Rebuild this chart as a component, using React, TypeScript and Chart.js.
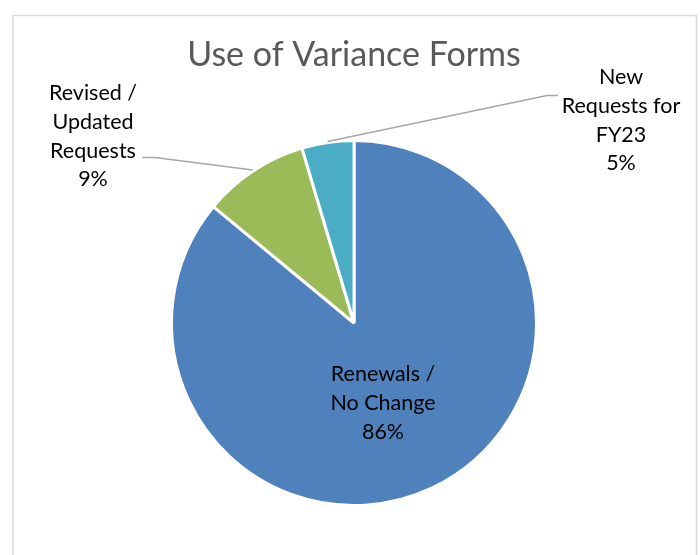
import React, { useEffect, useRef } from "react";
import { Chart, registerables } from "chart.js";

Chart.register(...registerables);

const title = "Use of Variance Forms";
const categories = ["Renewals / No Change", "Revised / Updated Requests", "New Requests for FY23"];
const values = [86, 9.4, 4.6];
const percentLabels = ["86%", "9%", "5%"];
const labelLines = [
  ["Renewals /", "No Change"],
  ["Revised /", "Updated", "Requests"],
  ["New", "Requests for", "FY23"],
];
const colors = ["#4F81BD", "#9BBB59", "#4BACC6"];

const FONT = "Lato, 'Open Sans', sans-serif";

const overlayPlugin = {
  id: "overlay",
  beforeDraw(chart: any) {
    const ctx = chart.ctx;
    ctx.save();
    ctx.fillStyle = "#ffffff";
    ctx.fillRect(0, 0, chart.width, chart.height);
    ctx.strokeStyle = "#d9d9d9";
    ctx.lineWidth = 1.5;
    ctx.strokeRect(13, 15.5, 683.5, 700);
    ctx.restore();
  },
  afterDraw(chart: any) {
    const ctx = chart.ctx;
    const meta = chart.getDatasetMeta(0);
    ctx.save();
    // title
    ctx.fillStyle = "#595959";
    ctx.font = `34px ${FONT}`;
    ctx.textAlign = "center";
    ctx.textBaseline = "alphabetic";
    ctx.fillText(title, 354, 66);

    ctx.font = `21.5px ${FONT}`;
    ctx.fillStyle = "#000000";
    const lh = 28.8;

    // inside label for slice 0
    {
      const lines = [...labelLines[0], percentLabels[0]];
      lines.forEach((t, i) => ctx.fillText(t, 383, 381 + i * lh));
    }
    // outside label slice 1 (left)
    {
      const lines = [...labelLines[1], percentLabels[1]];
      lines.forEach((t, i) => ctx.fillText(t, 93, 100 + i * lh));
    }
    // outside label slice 2 (right)
    {
      const lines = [...labelLines[2], percentLabels[2]];
      lines.forEach((t, i) => ctx.fillText(t, 621, 84 + i * lh));
    }

    // leader lines
    const anchor = (idx: number) => {
      const a: any = meta.data[idx];
      const p = a.getProps(["x", "y", "startAngle", "endAngle", "outerRadius"], true);
      const mid = (p.startAngle + p.endAngle) / 2;
      return { x: p.x + Math.cos(mid) * (p.outerRadius + 1), y: p.y + Math.sin(mid) * (p.outerRadius + 1) };
    };
    ctx.strokeStyle = "#a6a6a6";
    ctx.lineWidth = 1.5;
    const a1 = anchor(1);
    ctx.beginPath();
    ctx.moveTo(142, 157.5);
    ctx.lineTo(155, 157.5);
    ctx.lineTo(a1.x, a1.y);
    ctx.stroke();
    const a2 = anchor(2);
    ctx.beginPath();
    ctx.moveTo(558, 95.5);
    ctx.lineTo(547, 95.5);
    ctx.lineTo(a2.x, a2.y);
    ctx.stroke();
    ctx.restore();
  },
};

export default function App() {
  const ref = useRef<HTMLCanvasElement>(null);
  useEffect(() => {
    if (!ref.current) return;
    const chart = new Chart(ref.current, {
      type: "pie",
      data: {
        labels: categories,
        datasets: [
          {
            data: values,
            backgroundColor: colors,
            borderColor: "#ffffff",
            borderWidth: 3,
          },
        ],
      },
      options: {
        responsive: false,
        animation: false,
        radius: 182.5,
        layout: { padding: { left: 108, right: 100, top: 100, bottom: 9 } },
        plugins: {
          legend: { display: false },
          tooltip: { enabled: false },
          title: { display: false },
        },
      },
      plugins: [overlayPlugin],
    });
    return () => chart.destroy();
  }, []);
  return (
    <div style={{ position: "fixed", left: 0, top: 0, width: 700, height: 555, background: "#fff" }}>
      <canvas ref={ref} width={700} height={555} style={{ width: 700, height: 555, display: "block" }} />
    </div>
  );
}
